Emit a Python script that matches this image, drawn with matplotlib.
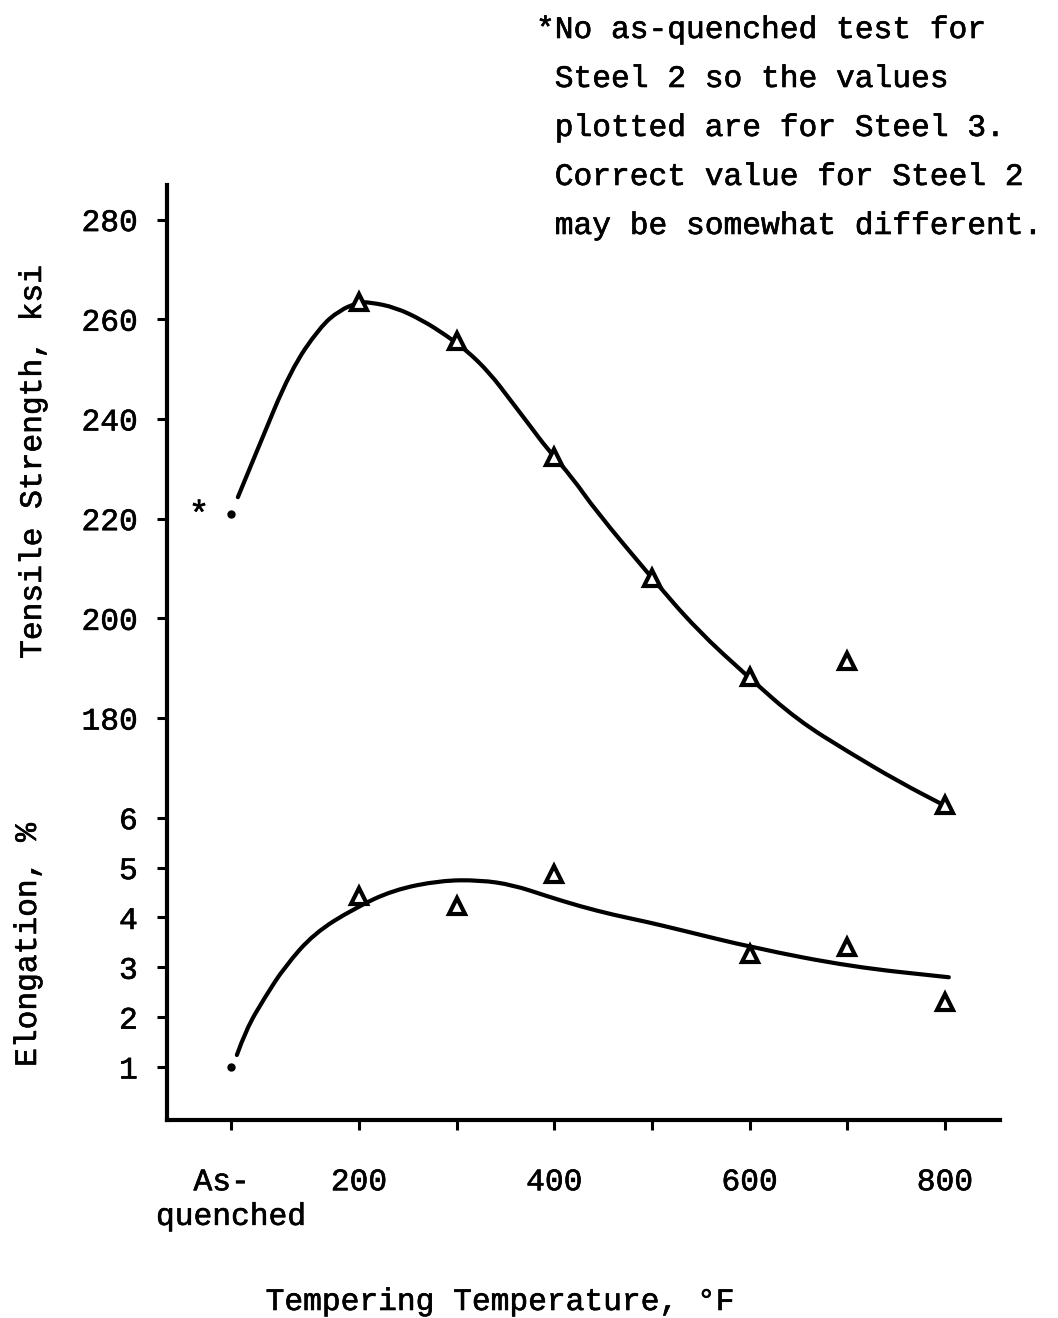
import matplotlib.pyplot as plt
import matplotlib.patheffects as pe
from matplotlib.path import Path
from matplotlib.patches import PathPatch
from matplotlib.text import Text

plt.rcParams['font.family'] = ['Liberation Mono', 'DejaVu Sans Mono']
plt.rcParams['font.size'] = 22.5

# as-quenched condition is plotted left of the 200 F tick
AQ = 69

# tensile strength (ksi) at each tempering temperature
temps = [200, 300, 400, 500, 600, 700, 800]
tensile = [263.4, 255.6, 232.4, 208.0, 188.2, 191.4, 162.5]

# elongation (%) -- no 500 F result
elong_temps = [200, 300, 400, 600, 700, 800]
elongation = [4.43, 4.23, 4.88, 3.27, 3.41, 2.31]

# as-quenched values (taken from Steel 3)
aq_tensile = 221.0
aq_elong = 1.0

# faired curves through the test points
tens_curve_t = [76, 96, 130, 160, 180, 200, 211, 237, 265, 289, 310, 334,
                355, 376, 392, 419, 442, 499, 546, 600, 649, 701, 753, 801]
tens_curve_v = [224.3, 233.8, 249.8, 258.4, 261.8, 263.4, 263.4, 262.4,
                259.8, 256.8, 253.8, 249.2, 243.8, 238.4, 234.2, 228.1,
                221.7, 208.3, 197.7, 188.0, 179.6, 173.2, 167.2, 162.3]
el_curve_t = [75, 84, 104, 124, 154, 195, 235, 283, 324, 358, 392, 427,
              461, 495, 529, 604, 704, 804]
el_curve_v = [1.24, 1.74, 2.41, 3.01, 3.68, 4.18, 4.55, 4.74, 4.75, 4.65,
              4.43, 4.22, 4.05, 3.91, 3.75, 3.39, 3.01, 2.80]

tens_ticks = [280, 260, 240, 220, 200, 180]
elong_ticks = [6, 5, 4, 3, 2, 1]
x_ticks = [AQ, 200, 300, 400, 500, 600, 700, 800]
x_labels = ['  As-\nquenched', '200', '', '400', '', '600', '', '800']


def el_y(e):
    # elongation shares the axis below the strength scale: 1 % = 10 ksi
    return 100 + 10 * e


def faired(ax, xs, ys):
    # smooth curve: quadratic beziers with the points as control points
    pts = list(zip(xs, ys))
    verts = [pts[0]]
    codes = [Path.MOVETO]
    for i in range(1, len(pts) - 1):
        mid = ((pts[i][0] + pts[i + 1][0]) / 2, (pts[i][1] + pts[i + 1][1]) / 2)
        verts += [pts[i], mid]
        codes += [Path.CURVE3, Path.CURVE3]
    verts.append(pts[-1])
    codes.append(Path.LINETO)
    patch = PathPatch(Path(verts, codes), fill=False, lw=3, edgecolor='black',
                      capstyle='round', joinstyle='round')
    ax.add_patch(patch)


fig = plt.figure(figsize=(10.58, 13.18), dpi=100)
ax = fig.add_axes([0.1578, 0.1502, 0.7873, 0.7094])

faired(ax, tens_curve_t, tens_curve_v)
faired(ax, el_curve_t, [el_y(e) for e in el_curve_v])

ax.plot(temps, tensile, ls='none', marker='^', ms=11.5, mfc='white',
        mec='black', mew=3, zorder=3)
ax.plot(elong_temps, [el_y(e) for e in elongation], ls='none', marker='^',
        ms=11.5, mfc='white', mec='black', mew=3, zorder=3)

ax.plot([AQ, AQ], [aq_tensile, el_y(aq_elong)], ls='none', marker='o',
        ms=5, color='black')
ax.annotate('*', xy=(AQ, aq_tensile), xytext=(-23, -8),
            textcoords='offset points', ha='center', va='baseline',
            fontsize=25)

ax.set_xlim(3.4, 856.3)
ax.set_ylim(99.36, 286.92)

for side in ['top', 'right']:
    ax.spines[side].set_visible(False)
for side in ['left', 'bottom']:
    ax.spines[side].set_linewidth(3)

ax.set_yticks(tens_ticks + [el_y(e) for e in elong_ticks])
ax.set_yticklabels([str(v) for v in tens_ticks] + [str(e) for e in elong_ticks])
ax.set_xticks(x_ticks)
ax.set_xticklabels(x_labels)
for lab in ax.get_xticklabels():
    lab.set_multialignment('left')

ax.tick_params(axis='both', direction='out', length=7, width=2.2)
ax.tick_params(axis='y', pad=14)
ax.tick_params(axis='x', pad=27)

fig.text(33 / 1058, 1 - 462 / 1318, 'Tensile Strength, ksi', rotation=90,
         ha='center', va='center')
fig.text(28 / 1058, 1 - 945 / 1318, 'Elongation, %', rotation=90,
         ha='center', va='center')
fig.text(500 / 1058, 1 - 1302 / 1318, 'Tempering Temperature, \u00b0F',
         ha='center', va='center')

note = ['*No as-quenched test for',
        ' Steel 2 so the values',
        ' plotted are for Steel 3.',
        ' Correct value for Steel 2',
        ' may be somewhat different.']
for i, line in enumerate(note):
    fig.text(536 / 1058, 1 - (30 + 49 * i) / 1318, line, ha='left', va='center')

# typewriter lettering is a little heavier than the plain mono face
for t in fig.findobj(Text):
    t.set_path_effects([pe.withStroke(linewidth=0.45, foreground='black')])

fig.savefig('out.png', dpi=100)
